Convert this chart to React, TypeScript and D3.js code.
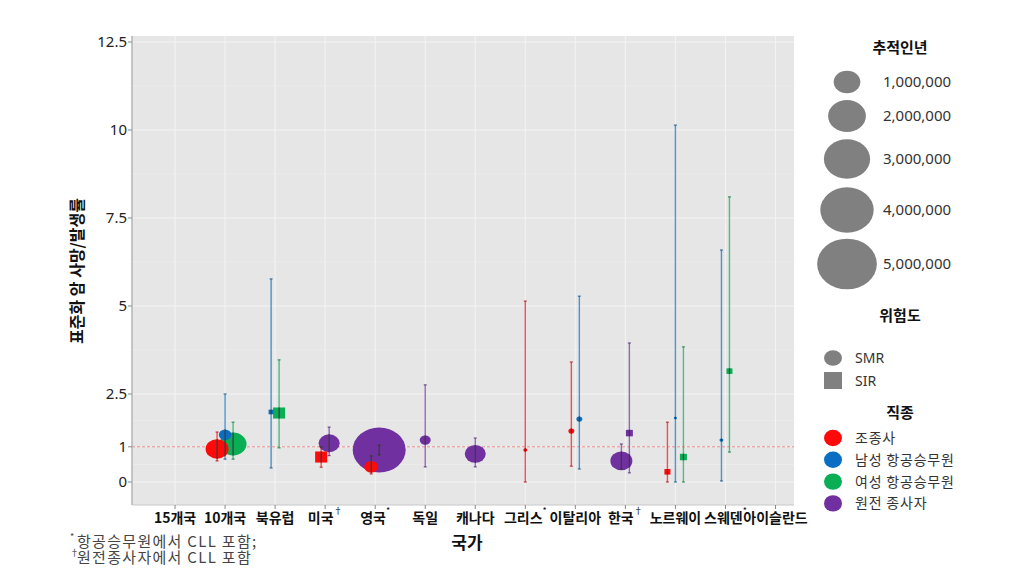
import React from 'react';
import * as d3 from 'd3';

const categories = ['15개국', '10개국', '북유럽', '미국', '영국', '독일', '캐나다', '그리스', '이탈리아', '한국', '노르웨이', '스웨덴', '아이슬란드'];
const categoryMarks = ['', '', '', '†', '*', '', '', '*', '', '†', '', '*', ''];

const groups = ['조종사', '남성 항공승무원', '여성 항공승무원', '원전 종사자'];
const groupColors = ['#ff0a0a', '#0a6fc2', '#0aae55', '#7030a0'];

const yTicks = [0, 1, 2.5, 5, 7.5, 10, 12.5];
const yMinor = [0.5, 1.75, 3.75, 6.25, 8.75, 11.25];
const sizeLegend = [1000000, 2000000, 3000000, 4000000, 5000000];

const pointCountry = ['10개국', '10개국', '10개국', '북유럽', '북유럽', '미국', '미국', '영국', '영국', '독일', '캐나다', '그리스', '이탈리아', '이탈리아', '한국', '한국', '노르웨이', '노르웨이', '노르웨이', '스웨덴', '스웨덴'];
const pointGroup = [0, 1, 2, 1, 2, 0, 3, 0, 3, 3, 3, 0, 0, 1, 3, 3, 0, 1, 2, 1, 2];
const pointType = ['SMR', 'SMR', 'SMR', 'SIR', 'SIR', 'SIR', 'SMR', 'SMR', 'SMR', 'SMR', 'SMR', 'SMR', 'SMR', 'SMR', 'SMR', 'SIR', 'SIR', 'SMR', 'SIR', 'SMR', 'SIR'];
const pointValue = [0.94, 1.34, 1.08, 1.99, 1.96, 0.71, 1.10, 0.43, 0.91, 1.19, 0.80, 0.91, 1.45, 1.79, 0.60, 1.39, 0.29, 1.82, 0.71, 1.19, 3.15];
const pointLow = [0.60, 0.65, 0.65, 0.40, 0.97, 0.42, 0.75, 0.23, 0.77, 0.43, 0.43, 0.00, 0.45, 0.37, 0.37, 0.26, 0.00, 0.00, 0.00, 0.03, 0.85];
const pointHigh = [1.42, 2.50, 1.70, 5.77, 3.47, 1.00, 1.56, 0.74, 1.05, 2.76, 1.25, 5.14, 3.41, 5.28, 1.08, 3.95, 1.70, 10.14, 3.84, 6.59, 8.10];
const pointPersonYears = [740000, 220000, 1020000, 44000, 250000, 250000, 620000, 270000, 3940000, 170000, 620000, 22000, 50000, 50000, 680000, 85000, 63000, 13000, 85000, 22000, 63000];

const W = 1035;
const H = 577;
const panel = { left: 132, right: 794, top: 36, bottom: 505 };

export default function App() {
  const x = d3.scaleLinear().domain([-0.86, 12.37]).range([panel.left, panel.right]);
  const y = d3.scaleLinear().domain([-0.653, 12.67]).range([panel.bottom, panel.top]);
  const r = d3.scaleSqrt().domain([0, 1000000]).range([0, 13.35]);
  const aspect = 0.85;
  const dodgeStep = 8;

  const pts = pointValue.map((v, i) => ({
    i,
    cat: categories.indexOf(pointCountry[i]),
    group: pointGroup[i],
    type: pointType[i],
    v,
    lo: pointLow[i],
    hi: pointHigh[i],
    py: pointPersonYears[i],
    cx: 0,
  }));
  const byCat = d3.group(pts, (p) => p.cat);
  byCat.forEach((arr) => {
    const sorted = arr.slice().sort((a, b) => a.group - b.group || (a.type === 'SMR' ? -1 : 1) - (b.type === 'SMR' ? -1 : 1));
    const n = sorted.length;
    sorted.forEach((p, k) => {
      p.cx = x(p.cat) + (k - (n - 1) / 2) * dodgeStep;
    });
  });
  const drawOrder = pts.slice().sort((a, b) => b.py - a.py);

  const shape = (p, fill, key) => {
    const rx = r(p.py);
    const ry = rx * aspect;
    const cy = y(p.v);
    if (p.type === 'SMR') {
      return <ellipse key={key} cx={p.cx} cy={cy} rx={rx} ry={ry} fill={fill} />;
    }
    const hw = rx * 0.9;
    const hh = hw * 0.92;
    return <rect key={key} x={p.cx - hw} y={cy - hh} width={hw * 2} height={hh * 2} fill={fill} />;
  };

  const font = "'Noto Sans CJK KR', 'Noto Sans', sans-serif";
  const latin = "'Noto Sans', sans-serif";
  const legX = 833;

  return (
    <svg width={W} height={H} style={{ position: 'absolute', left: 0, top: 0, background: '#fff' }} fontFamily={font}>
      <defs>
        <clipPath id="pointsClip">{drawOrder.map((p) => shape(p, '#000', 'c' + p.i))}</clipPath>
      </defs>
      <rect x={panel.left} y={panel.top} width={panel.right - panel.left} height={panel.bottom - panel.top} fill="#e6e6e6" />
      {yMinor.map((t) => (
        <line key={'mi' + t} x1={panel.left} x2={panel.right} y1={y(t)} y2={y(t)} stroke="#eeeeee" strokeWidth={0.8} />
      ))}
      {yTicks.map((t) => (
        <line key={'ma' + t} x1={panel.left} x2={panel.right} y1={y(t)} y2={y(t)} stroke="#f3f3f3" strokeWidth={1.1} />
      ))}
      {categories.map((c, i) => (
        <line key={'vx' + c} x1={x(i)} x2={x(i)} y1={panel.top} y2={panel.bottom} stroke="#f3f3f3" strokeWidth={1.1} />
      ))}
      <line x1={panel.left} x2={panel.right} y1={y(1)} y2={y(1)} stroke="#f08a8a" strokeWidth={1} strokeDasharray="3,2" />

      {pts.map((p) => {
        const cap = d3.color(groupColors[p.group]).darker(1.2).formatHex();
        return (
          <g key={'eb' + p.i}>
            <line x1={p.cx} x2={p.cx} y1={y(p.lo)} y2={y(p.hi)} stroke={groupColors[p.group]} strokeOpacity={0.7} strokeWidth={1.4} />
            <line x1={p.cx - 1.5} x2={p.cx + 1.5} y1={y(p.lo)} y2={y(p.lo)} stroke={cap} strokeOpacity={0.7} strokeWidth={1.2} />
            <line x1={p.cx - 1.5} x2={p.cx + 1.5} y1={y(p.hi)} y2={y(p.hi)} stroke={cap} strokeOpacity={0.7} strokeWidth={1.2} />
          </g>
        );
      })}
      {drawOrder.map((p) => shape(p, groupColors[p.group], 'p' + p.i))}
      <g clipPath="url(#pointsClip)">
        {pts.map((p) => (
          <g key={'ed' + p.i}>
            <line x1={p.cx} x2={p.cx} y1={y(p.lo)} y2={y(p.hi)} stroke="#3a3a3a" strokeWidth={1.2} />
            <line x1={p.cx - 1.5} x2={p.cx + 1.5} y1={y(p.lo)} y2={y(p.lo)} stroke="#3a3a3a" strokeWidth={1.2} />
            <line x1={p.cx - 1.5} x2={p.cx + 1.5} y1={y(p.hi)} y2={y(p.hi)} stroke="#3a3a3a" strokeWidth={1.2} />
          </g>
        ))}
      </g>

      <line x1={panel.left} x2={panel.left} y1={panel.top} y2={panel.bottom} stroke="#b5b5b5" strokeWidth={1.5} />
      <line x1={panel.left} x2={panel.right} y1={panel.bottom} y2={panel.bottom} stroke="#c8c8c8" strokeWidth={1} />
      {yTicks.map((t) => (
        <g key={'yt' + t}>
          <line x1={panel.left - 4} x2={panel.left} y1={y(t)} y2={y(t)} stroke="#888" strokeWidth={1} />
          <text x={panel.left - 5} y={y(t)} dy="0.35em" textAnchor="end" fontSize={15} fill="#222" fontFamily={latin}>
            {t}
          </text>
        </g>
      ))}
      {categories.map((c, i) => (
        <g key={'xt' + c}>
          <line x1={x(i)} x2={x(i)} y1={panel.bottom} y2={panel.bottom + 4} stroke="#888" strokeWidth={1} />
          <text x={x(i)} y={523} textAnchor="middle" fontSize={14} fontWeight="bold" fill="#111">
            {c}
            {categoryMarks[i] && (
              <tspan dy={-9} fontSize={9} fontWeight="normal">
                {categoryMarks[i]}
              </tspan>
            )}
          </text>
        </g>
      ))}
      <text x={467} y={549} textAnchor="middle" fontSize={17} fontWeight="bold" fill="#111">
        국가
      </text>
      <text transform={`translate(83, 271) rotate(-90)`} textAnchor="middle" fontSize={16} fontWeight="bold" fill="#111">
        표준화 암 사망/발생률
      </text>

      <text x={70} y={540} fontSize={9} fill="#444">*</text>
      <text x={77} y={547} fontSize={15} fill="#444" letterSpacing={1.3}>
        항공승무원에서 CLL 포함;
      </text>
      <text x={70} y={556} fontSize={9} fill="#444">†</text>
      <text x={77} y={563} fontSize={15} fill="#444" letterSpacing={1.3}>
        원전종사자에서 CLL 포함
      </text>

      <text x={900} y={53} textAnchor="middle" fontSize={15} fontWeight="bold" fill="#111">
        추적인년
      </text>
      {sizeLegend.map((s, k) => {
        const cy = [82, 116, 159, 210, 264][k];
        const rx = r(s);
        return (
          <g key={'sl' + s}>
            <ellipse cx={847} cy={cy} rx={rx} ry={rx * aspect} fill="#808080" />
            <text x={883} y={cy} dy="0.35em" fontSize={15} fill="#333" fontFamily={latin}>
              {d3.format(',')(s)}
            </text>
          </g>
        );
      })}

      <text x={900} y={321} textAnchor="middle" fontSize={15} fontWeight="bold" fill="#111">
        위험도
      </text>
      <ellipse cx={legX} cy={358} rx={9} ry={7.8} fill="#808080" />
      <text x={855} y={358} dy="0.35em" fontSize={14} fill="#333" fontFamily={latin}>SMR</text>
      <rect x={legX - 9} y={372} width={18} height={17} fill="#808080" />
      <text x={855} y={381} dy="0.35em" fontSize={14} fill="#333" fontFamily={latin}>SIR</text>

      <text x={900} y={418} textAnchor="middle" fontSize={15} fontWeight="bold" fill="#111">
        직종
      </text>
      {groups.map((g, k) => {
        const cy = 438 + k * 21.8;
        return (
          <g key={'gl' + g}>
            <ellipse cx={legX} cy={cy} rx={9} ry={8.2} fill={groupColors[k]} />
            <text x={855} y={cy} dy="0.35em" fontSize={14} fill="#333" letterSpacing={0.8}>
              {g}
            </text>
          </g>
        );
      })}
    </svg>
  );
}
